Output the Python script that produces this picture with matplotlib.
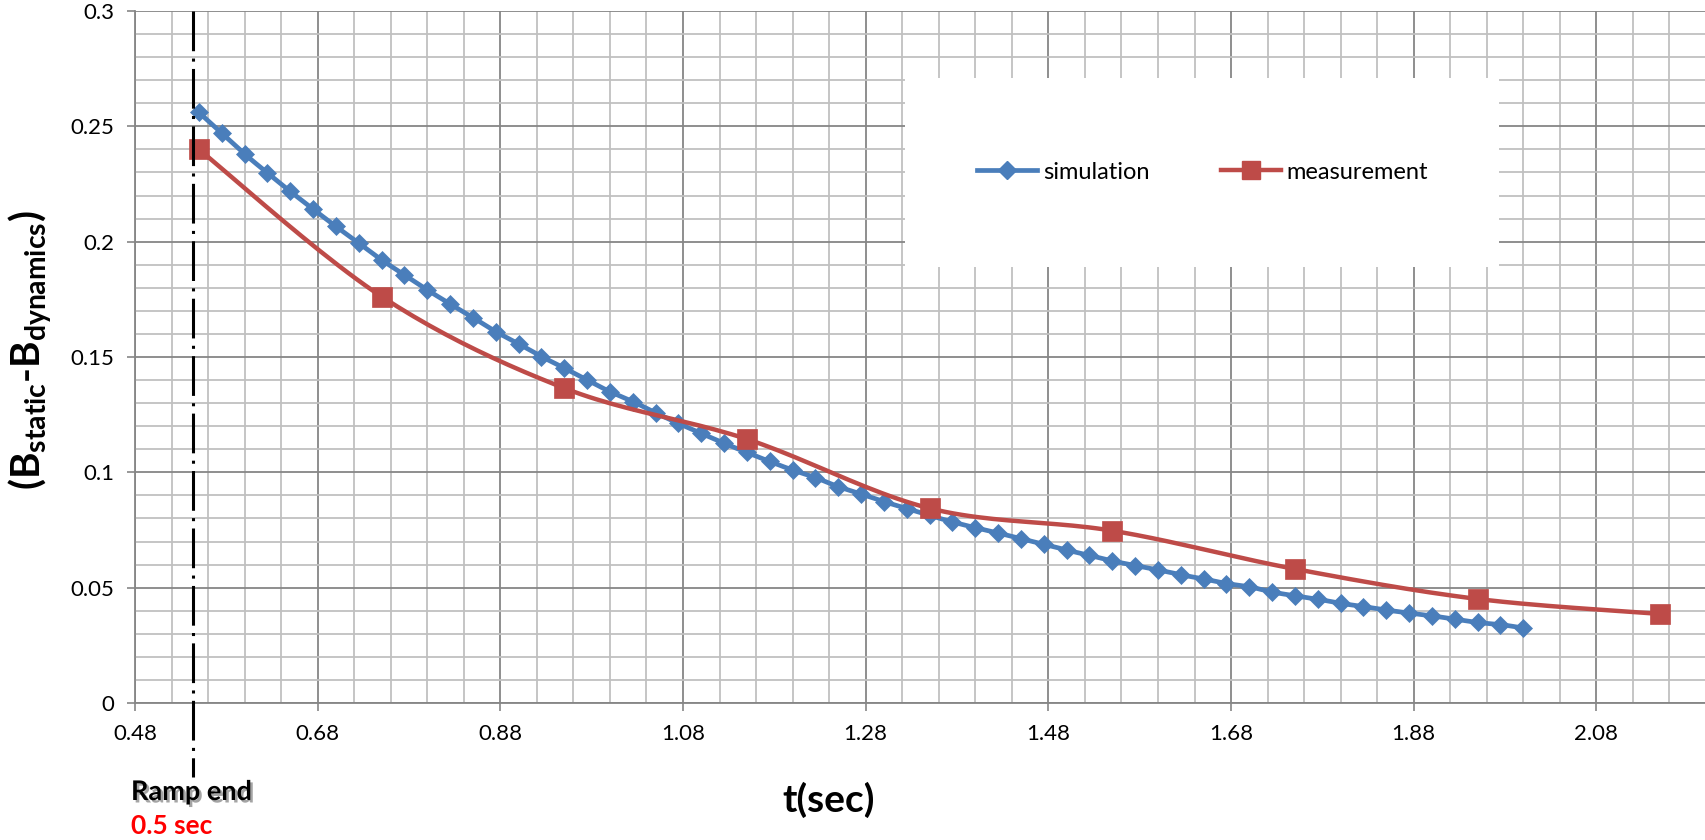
import numpy as np
import matplotlib
matplotlib.use("Agg")
import matplotlib.pyplot as plt
from matplotlib.lines import Line2D
from matplotlib.patches import Rectangle
import matplotlib.patheffects as pe
import matplotlib.transforms as mtransforms
from matplotlib.mathtext import MathTextParser

plt.rcParams['font.family'] = ['Lato', 'DejaVu Sans']
plt.rcParams['mathtext.fontset'] = 'custom'
plt.rcParams['mathtext.rm'] = 'Lato:bold'
plt.rcParams['mathtext.bf'] = 'Lato:bold'
plt.rcParams['mathtext.it'] = 'Lato:italic'

# ---------------- data ----------------
sim_t = [0.550, 0.575, 0.600, 0.625, 0.650, 0.675, 0.700, 0.725, 0.750, 0.775,
         0.800, 0.825, 0.850, 0.875, 0.900, 0.925, 0.950, 0.975, 1.000, 1.025,
         1.050, 1.075, 1.100, 1.125, 1.150, 1.175, 1.200, 1.225, 1.250, 1.275,
         1.300, 1.325, 1.350, 1.375, 1.400, 1.425, 1.450, 1.475, 1.500, 1.525,
         1.550, 1.575, 1.600, 1.625, 1.650, 1.675, 1.700, 1.725, 1.750, 1.775,
         1.800, 1.825, 1.850, 1.875, 1.900, 1.925, 1.950, 1.975, 2.000]
sim_b = [0.2560, 0.2470, 0.2380, 0.2298, 0.2218, 0.2141, 0.2066, 0.1994, 0.1921, 0.1856,
         0.1791, 0.1730, 0.1671, 0.1610, 0.1557, 0.1502, 0.1452, 0.1400, 0.1350, 0.1307,
         0.1258, 0.1212, 0.1169, 0.1126, 0.1086, 0.1047, 0.1010, 0.0977, 0.0938, 0.0906,
         0.0873, 0.0843, 0.0813, 0.0785, 0.0760, 0.0737, 0.0712, 0.0688, 0.0663, 0.0640,
         0.0616, 0.0596, 0.0577, 0.0556, 0.0538, 0.0518, 0.0504, 0.0481, 0.0465, 0.0450,
         0.0432, 0.0418, 0.0403, 0.0390, 0.0378, 0.0363, 0.0349, 0.0340, 0.0325]

meas_t = [0.55, 0.75, 0.95, 1.15, 1.35, 1.55, 1.75, 1.95, 2.15]
meas_b = [0.2400, 0.1762, 0.1365, 0.1144, 0.0844, 0.0747, 0.0581, 0.0451, 0.0386]

ramp_t = 0.543
x_ticks = [0.48, 0.68, 0.88, 1.08, 1.28, 1.48, 1.68, 1.88, 2.08]
x_tick_labels = ['0.48', '0.68', '0.88', '1.08', '1.28', '1.48', '1.68', '1.88', '2.08']
y_ticks = [0, 0.05, 0.1, 0.15, 0.2, 0.25, 0.3]
y_tick_labels = ['0', '0.05', '0.1', '0.15', '0.2', '0.25', '0.3']
series_names = ['simulation', 'measurement']

BLUE = '#4A7EBB'
RED = '#BE4B48'
GRID_MAJOR = '#868686'
GRID_MINOR = '#C0C0C0'


def excel_smooth(x, y, n=24):
    pts = np.column_stack([np.asarray(x, float), np.asarray(y, float)])
    out = [pts[0]]
    tt = np.linspace(0, 1, n)[1:, None]
    for i in range(len(pts) - 1):
        p0 = pts[i - 1] if i > 0 else pts[i]
        p1 = pts[i]
        p2 = pts[i + 1]
        p3 = pts[i + 2] if i + 2 < len(pts) else pts[i + 1]
        c1 = p1 + (p2 - p0) / 6.0
        c2 = p2 - (p3 - p1) / 6.0
        seg = ((1 - tt) ** 3) * p1 + 3 * ((1 - tt) ** 2) * tt * c1 + 3 * (1 - tt) * tt ** 2 * c2 + tt ** 3 * p2
        out.extend(seg)
    out = np.array(out)
    return out[:, 0], out[:, 1]


W, H = 1706, 840
fig = plt.figure(figsize=(W / 100, H / 100), dpi=100)
ax = fig.add_axes([135 / W, 137 / H, 1571 / W, 692 / H])

ax.set_xlim(0.48, 2.20)
ax.set_ylim(0, 0.3)

# grid
ax.set_xticks(x_ticks)
ax.set_xticklabels(x_tick_labels)
ax.set_yticks(y_ticks)
ax.set_yticklabels(y_tick_labels)
ax.set_xticks(np.arange(0.48, 2.2001, 0.04), minor=True)
ax.set_yticks(np.arange(0, 0.3001, 0.01), minor=True)
ax.set_axisbelow(True)
ax.grid(which='minor', color=GRID_MINOR, linewidth=1.3, zorder=0.3)
ax.grid(which='major', color=GRID_MAJOR, linewidth=1.3, zorder=0.4)
ax.tick_params(which='minor', length=0)
ax.tick_params(which='major', direction='out', length=5.8, width=1.2, color=GRID_MAJOR,
               labelsize=16, pad=9)
for lab in ax.get_xticklabels() + ax.get_yticklabels():
    lab.set_fontfamily(['Lato', 'DejaVu Sans'])

for s in ['top', 'right']:
    ax.spines[s].set_visible(False)
for s in ['left', 'bottom']:
    ax.spines[s].set_color(GRID_MAJOR)
    ax.spines[s].set_linewidth(1.3)

# legend backdrop (white box hiding the grid)
ax.add_patch(Rectangle((0.490, 0.630), 0.378, 0.273, transform=ax.transAxes,
                       facecolor='white', edgecolor='none', zorder=1.0))

# series
sx, sy = excel_smooth(sim_t, sim_b)
ax.plot(sx, sy, color=BLUE, linewidth=3.4, zorder=3, solid_capstyle='round')
ax.plot(sim_t, sim_b, linestyle='none', marker='D', markersize=9.6, color=BLUE,
        markeredgecolor=BLUE, markeredgewidth=0.5, zorder=4)

mx, my = excel_smooth(meas_t, meas_b)
ax.plot(mx, my, color=RED, linewidth=3.2, zorder=5, solid_capstyle='round')
ax.plot(meas_t, meas_b, linestyle='none', marker='s', markersize=14, color=RED,
        markeredgecolor=RED, markeredgewidth=0.5, zorder=6)

# ramp-end dash-dot line (extends below axis)
trans = mtransforms.blended_transform_factory(ax.transData, ax.transAxes)
ax.plot([ramp_t, ramp_t], [1.0, -0.107], transform=trans, color='black', linewidth=2.2,
        linestyle=(0, (13, 2.4, 1, 2.4)), clip_on=False, zorder=7)

# legend
handles = [Line2D([], [], color=BLUE, linewidth=3.4, marker='D', markersize=9.6),
           Line2D([], [], color=RED, linewidth=3.2, marker='s', markersize=13)]
leg = ax.legend(handles, series_names, loc='center left', bbox_to_anchor=(0.536, 0.767),
                ncol=2, frameon=False, fontsize=17, handlelength=2.55, handletextpad=0.25,
                columnspacing=3.0, borderpad=0, borderaxespad=0)
leg.set_zorder(8)

# axis titles
fig.text(829 / W, 1 - 800 / H, 't(sec)', fontsize=28, fontweight='bold', ha='center', va='center')

ylab = r'$\mathbf{(B_{static}\text{-}B_{dynamics})}$'
try:
    MathTextParser('agg').parse(ylab, dpi=100)
except Exception:
    ylab = r'$\mathbf{(B_{static}{-}B_{dynamics})}$'
fig.text(30 / W, 1 - 350 / H, ylab, fontsize=29, rotation=90, ha='center', va='center')

# ramp annotations
fig.text(131 / W, 1 - 792 / H, 'Ramp end', fontsize=19.5, fontweight='bold', ha='left', va='center',
         path_effects=[pe.withSimplePatchShadow(offset=(1.8, -1.8), shadow_rgbFace='0.35', alpha=0.55)])
fig.text(131 / W, 1 - 826 / H, '0.5 sec', fontsize=19, fontweight='bold', color='#FF0000',
         ha='left', va='center')

fig.savefig('out.png', dpi=100)
